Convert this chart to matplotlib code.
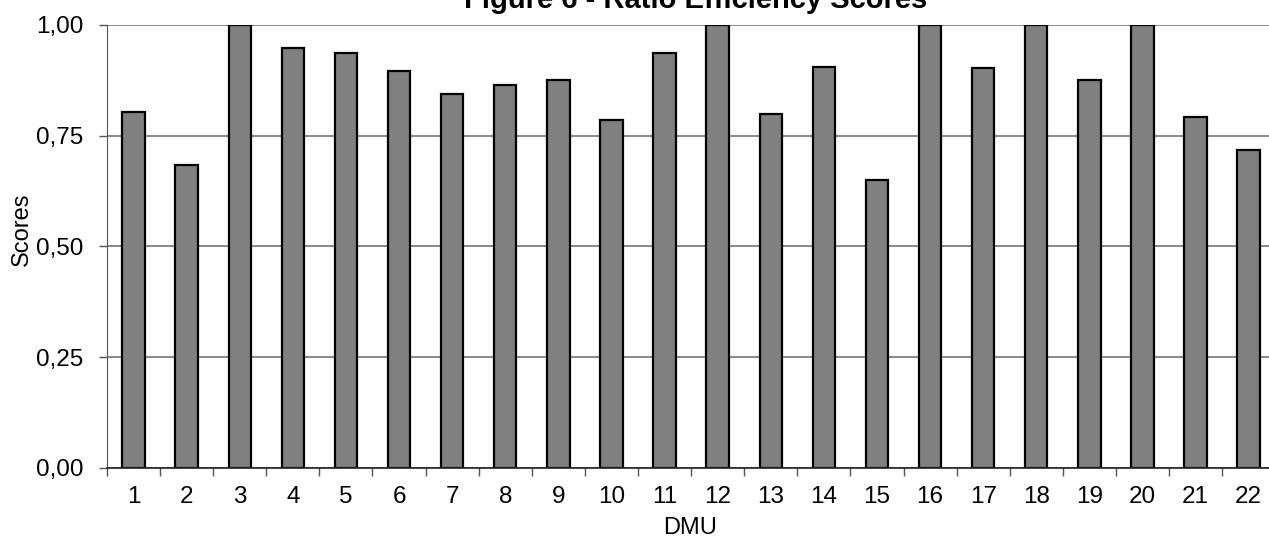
import matplotlib
matplotlib.use("Agg")
import matplotlib.pyplot as plt
from matplotlib.ticker import FixedLocator, NullFormatter

plt.rcParams['font.family'] = ['Liberation Sans', 'DejaVu Sans']

dmu = [str(i) for i in range(1, 23)]
scores = [0.803, 0.684, 1.000, 0.949, 0.936, 0.897, 0.844, 0.864, 0.875, 0.785,
          0.937, 1.000, 0.800, 0.904, 0.649, 1.000, 0.903, 1.000, 0.876, 1.000,
          0.792, 0.717]
yticks = [0.0, 0.25, 0.5, 0.75, 1.0]
ytick_labels = ["0,00", "0,25", "0,50", "0,75", "1,00"]

W, H = 1269, 538
fig = plt.figure(figsize=(W / 100, H / 100), dpi=100)
left_px, right_px = 107, 107 + 22 * 53.1
top_px, bottom_px = 25, 467.7
ax = fig.add_axes([left_px / W, (H - bottom_px) / H,
                   (right_px - left_px) / W, (bottom_px - top_px) / H])

x = list(range(1, len(scores) + 1))
ax.bar(x, scores, width=0.42, color='#808080', edgecolor='black',
       linewidth=1.6, zorder=3)

ax.set_xlim(0.5, len(scores) + 0.5)
ax.set_ylim(0, 1)

ax.set_yticks(yticks)
ax.set_yticklabels(ytick_labels)
ax.yaxis.grid(True, color='#808080', linewidth=1.3, zorder=0)
ax.tick_params(axis='y', direction='out', length=6, width=1, color='#555555',
               labelsize=17.5, pad=11)

# major ticks at category boundaries, labels at centers
ax.xaxis.set_major_locator(FixedLocator([i + 0.5 for i in range(0, len(scores) + 1)]))
ax.xaxis.set_major_formatter(NullFormatter())
ax.xaxis.set_minor_locator(FixedLocator(x))
ax.set_xticklabels(dmu, minor=True)
ax.tick_params(axis='x', which='major', direction='out', length=6, width=1,
               color='#555555')
ax.tick_params(axis='x', which='minor', length=0, labelsize=17.5, pad=13)

for s in ['top', 'right']:
    ax.spines[s].set_visible(False)
ax.spines['left'].set_color('#555555')
ax.spines['bottom'].set_color('#222222')
ax.spines['bottom'].set_linewidth(1.2)
ax.spines['bottom'].set_zorder(4)

fig.text(696 / W, (H - 8) / H, "Figure 6 - Ratio Efficiency Scores",
         ha='center', va='baseline', fontsize=21, fontweight='bold')
fig.text(22 / W, (H - 229) / H, "Scores", rotation=90, ha='center',
         va='center', fontsize=17)
fig.text(690 / W, (H - 528) / H, "DMU", ha='center', va='center', fontsize=17)

fig.savefig("out.png", dpi=100)
